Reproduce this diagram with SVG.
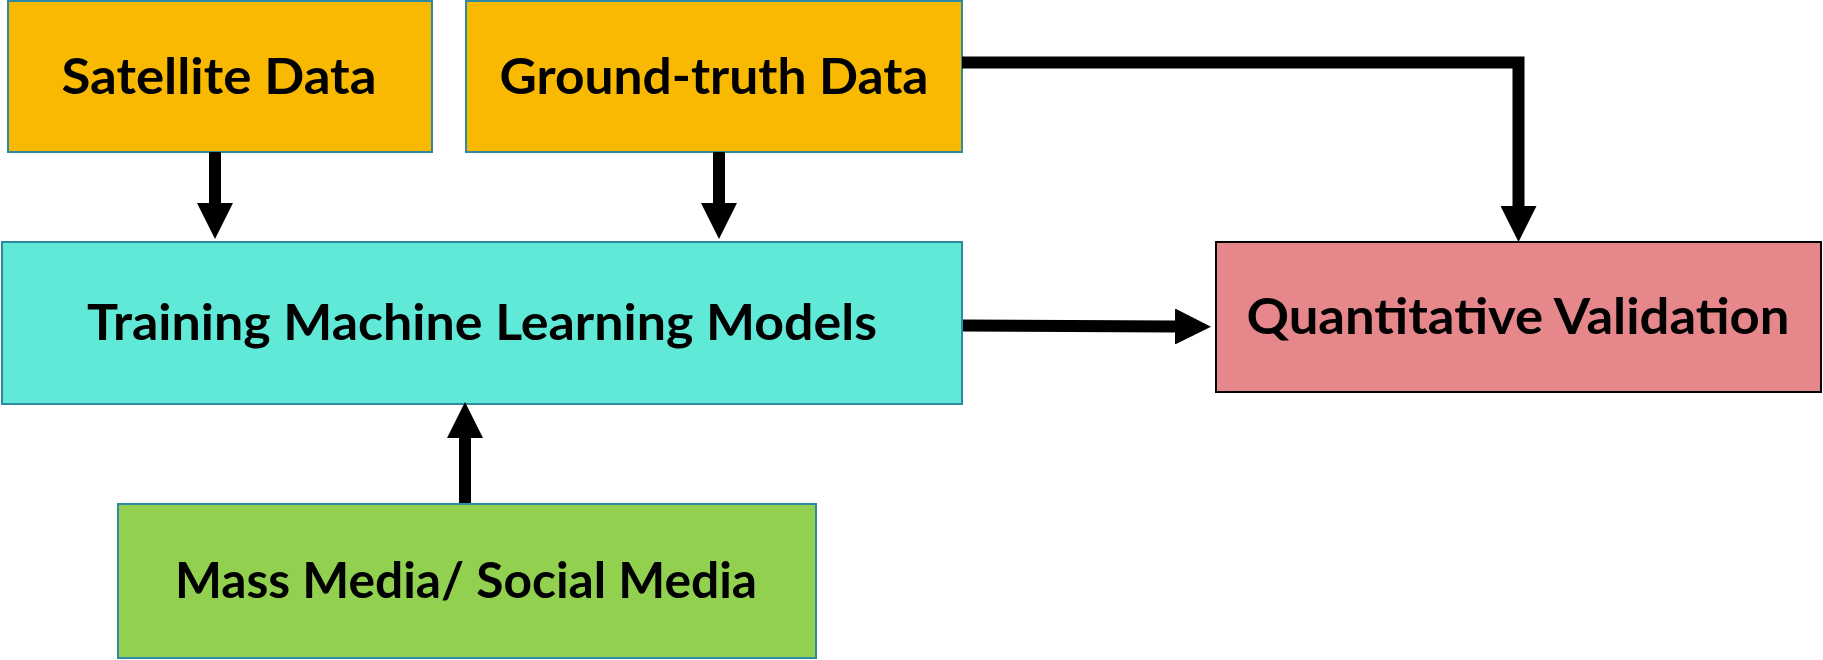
<svg xmlns="http://www.w3.org/2000/svg" width="1823" height="660" viewBox="0 0 1823 660">
  <style>
    .box { stroke: #2E89A2; stroke-width: 2; }
    .src { fill: #F9B900; }
    .train { fill: #61E9D7; }
    .media { fill: #92D150; }
    .valid { fill: #E5878B; stroke: #000000; stroke-width: 2; }
    .label { font-family: Lato, "Open Sans", "Liberation Sans", sans-serif; font-weight: bold; font-size: 50px; fill: #000000; text-anchor: middle; }
    .conn { fill: none; stroke: #000000; stroke-width: 12; stroke-linejoin: miter; }
  </style>
  <defs>
    <marker id="head" markerUnits="userSpaceOnUse" markerWidth="36" markerHeight="36" refX="0" refY="18" orient="auto" viewBox="0 0 36 36">
      <path d="M0,0 L36,18 L0,36 Z" fill="#000000"/>
    </marker>
  </defs>

  <rect width="1823" height="660" fill="#FFFFFF"/>

  <g id="satellite-data">
    <rect class="box src" x="8" y="1" width="424" height="151"/>
    <text class="label" x="219" y="94" textLength="315" lengthAdjust="spacingAndGlyphs">Satellite Data</text>
  </g>

  <g id="ground-truth-data">
    <rect class="box src" x="466" y="1" width="496" height="151"/>
    <text class="label" x="714" y="94" textLength="429" lengthAdjust="spacingAndGlyphs">Ground-truth Data</text>
  </g>

  <g id="training-models">
    <rect class="box train" x="2" y="242" width="960" height="162"/>
    <text class="label" x="482" y="340" textLength="790" lengthAdjust="spacingAndGlyphs">Training Machine Learning Models</text>
  </g>

  <g id="quantitative-validation">
    <rect class="valid" x="1216" y="242" width="605" height="150"/>
    <text class="label" x="1518" y="334" textLength="543" lengthAdjust="spacingAndGlyphs">Quantitative Validation</text>
  </g>

  <g id="mass-social-media">
    <rect class="box media" x="118" y="504" width="698" height="154"/>
    <text class="label" x="466" y="598" textLength="582" lengthAdjust="spacingAndGlyphs">Mass Media/ Social Media</text>
  </g>

  <g id="connectors">
    <line class="conn" x1="215" y1="152" x2="215" y2="203" marker-end="url(#head)"/>
    <line class="conn" x1="719" y1="152" x2="719" y2="203" marker-end="url(#head)"/>
    <path class="conn" d="M962,62.5 H1518.5 V206" marker-end="url(#head)"/>
    <line class="conn" x1="963" y1="325.5" x2="1175" y2="326.5" marker-end="url(#head)"/>
    <line class="conn" x1="465" y1="503" x2="465" y2="438" marker-end="url(#head)"/>
  </g>
</svg>
